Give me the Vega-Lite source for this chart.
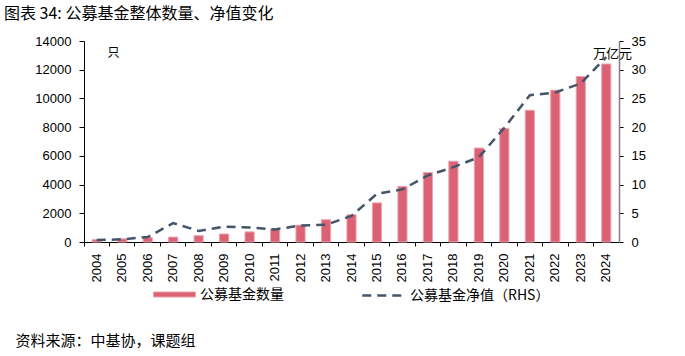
{
  "$schema": "https://vega.github.io/schema/vega-lite/v6.json",
  "width": 535,
  "height": 201,
  "autosize": {"type": "none"},
  "padding": {"left": 84, "top": 41, "right": 66, "bottom": 114},
  "background": "white",
  "title": {
    "text": "图表 34: 公募基金整体数量、净值变化",
    "anchor": "start",
    "frame": "group",
    "orient": "top",
    "font": "Noto Sans CJK SC",
    "fontSize": 16,
    "fontWeight": "normal",
    "color": "#000000",
    "dx": -80,
    "dy": -9,
    "offset": 4
  },
  "config": {
    "view": {"stroke": null},
    "axis": {"labelFont": "Liberation Sans", "labelColor": "#000000", "titleFont": "Noto Sans CJK SC", "titleFontWeight": "normal", "titleColor": "#000000", "grid": false},
    "legend": {"labelFont": "Noto Sans CJK SC", "labelFontSize": 14, "labelColor": "#000000"}
  },
  "data": {
    "values": [
      {"year": "2004", "count": 161, "nav": 0.33},
      {"year": "2005", "count": 218, "nav": 0.47},
      {"year": "2006", "count": 307, "nav": 0.86},
      {"year": "2007", "count": 341, "nav": 3.28},
      {"year": "2008", "count": 439, "nav": 1.94},
      {"year": "2009", "count": 557, "nav": 2.68},
      {"year": "2010", "count": 704, "nav": 2.52},
      {"year": "2011", "count": 914, "nav": 2.19},
      {"year": "2012", "count": 1173, "nav": 2.87},
      {"year": "2013", "count": 1552, "nav": 3.0},
      {"year": "2014", "count": 1897, "nav": 4.54},
      {"year": "2015", "count": 2722, "nav": 8.4},
      {"year": "2016", "count": 3867, "nav": 9.16},
      {"year": "2017", "count": 4841, "nav": 11.6},
      {"year": "2018", "count": 5626, "nav": 13.03},
      {"year": "2019", "count": 6544, "nav": 14.77},
      {"year": "2020", "count": 7913, "nav": 19.89},
      {"year": "2021", "count": 9175, "nav": 25.56},
      {"year": "2022", "count": 10576, "nav": 26.03},
      {"year": "2023", "count": 11528, "nav": 27.6},
      {"year": "2024", "count": 12400, "nav": 32.2}
    ]
  },
  "encoding": {
    "x": {
      "field": "year",
      "type": "ordinal",
      "scale": {"paddingInner": 0, "paddingOuter": 0},
      "axis": {
        "labelAngle": -90,
        "labelAlign": "right",
        "labelBaseline": "middle",
        "labelFontSize": 13,
        "labelPadding": 7,
        "bandPosition": 0,
        "tickSize": 4,
        "tickColor": "#000000",
        "domainColor": "#000000",
        "title": "资料来源：中基协，课题组",
        "titleFontSize": 15,
        "titleAngle": 0,
        "titleAlign": "left",
        "titleBaseline": "middle",
        "titleAnchor": "start",
        "titleX": -69,
        "titleY": 98
      }
    }
  },
  "layer": [
    {
      "mark": {"type": "bar", "width": {"band": 0.36}, "stroke": "#EDA3AC", "strokeWidth": 1},
      "encoding": {
        "y": {
          "field": "count",
          "type": "quantitative",
          "scale": {"domain": [0, 14000]},
          "axis": {
            "values": [0, 2000, 4000, 6000, 8000, 10000, 12000, 14000],
            "format": "d",
            "labelFontSize": 13,
            "labelPadding": 8,
            "tickSize": 5,
            "tickColor": "#000000",
            "domainColor": "#000000",
            "title": "只",
            "titleFontSize": 12,
            "titleAngle": 0,
            "titleAlign": "center",
            "titleBaseline": "middle",
            "titleX": 29,
            "titleY": 11
          }
        },
        "fill": {
          "datum": "公募基金数量",
          "scale": {"range": ["#DB6174"]},
          "legend": {
            "orient": "none",
            "legendX": 69,
            "legendY": 232,
            "title": null,
            "padding": 0,
            "symbolType": "M-1,-0.12H1V0.12H-1Z",
            "symbolSize": 1764,
            "symbolStrokeColor": "#EDA3AC",
            "symbolStrokeWidth": 1,
            "labelOffset": 4
          }
        }
      }
    },
    {
      "mark": {"type": "line", "strokeWidth": 2.5, "strokeDash": [9, 6]},
      "encoding": {
        "y": {
          "field": "nav",
          "type": "quantitative",
          "scale": {"domain": [0, 35]},
          "axis": {
            "orient": "right",
            "values": [0, 5, 10, 15, 20, 25, 30, 35],
            "labelFontSize": 13,
            "labelPadding": 8,
            "tickSize": 4,
            "tickColor": "#000000",
            "domainColor": "#808080",
            "domainWidth": 1.5,
            "title": "万亿元",
            "titleFontSize": 13,
            "titleAngle": 0,
            "titleAlign": "center",
            "titleBaseline": "middle",
            "titleX": -7,
            "titleY": 12
          }
        },
        "stroke": {
          "datum": "公募基金净值（RHS）",
          "scale": {"range": ["#44546A"]},
          "legend": {
            "orient": "none",
            "legendX": 277,
            "legendY": 232,
            "title": null,
            "padding": 0,
            "symbolType": "stroke",
            "symbolSize": 1800,
            "symbolStrokeWidth": 2.5,
            "symbolDash": [9, 6],
            "labelOffset": 4
          }
        }
      }
    }
  ],
  "resolve": {"scale": {"y": "independent"}}
}
